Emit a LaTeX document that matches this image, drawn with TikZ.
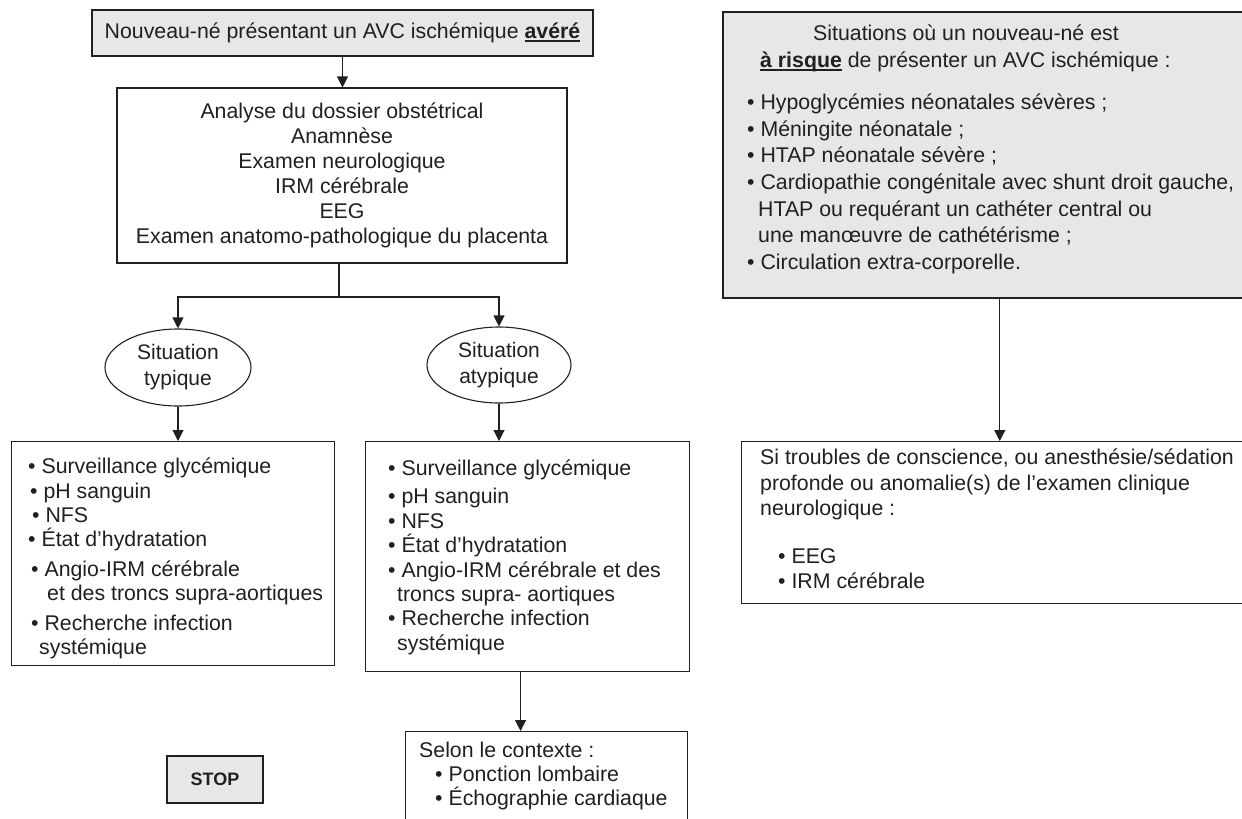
\documentclass[tikz,border=0pt]{standalone}
\usepackage{fontspec}
\setmainfont{Liberation Sans}
\usetikzlibrary{shapes.geometric,arrows.meta}
\definecolor{boxgray}{RGB}{230,231,232}
\definecolor{ink}{RGB}{35,31,32}
\newcommand\fst{\rule{0pt}{16pt}}
\newsavebox\ulbox
\newcommand\ulb[1]{\sbox\ulbox{\textbf{#1}}\rlap{\rule[-3.2pt]{\wd\ulbox}{1.4pt}}\usebox\ulbox}
\begin{document}
\begin{tikzpicture}[x=1pt,y=-1pt,
  every node/.style={text=ink, font=\fontsize{21.3}{25}\selectfont},
  box/.style={draw=ink, line width=1.1pt, inner sep=0pt, rectangle},
  graybox/.style={box, fill=boxgray},
  txt/.style={inner sep=0pt, align=left, anchor=north west},
  oval/.style={ellipse, draw=ink, line width=1.1pt, inner sep=0pt, align=center,
    font=\fontsize{21}{26}\selectfont},
  ln/.style={draw=ink, line width=1.1pt},
  arr/.style={ln, -{Triangle[width=11pt,length=11pt]}}]
\useasboundingbox (0,0) rectangle (1242,819);
\clip (0,0) rectangle (1242,819);
\fill[white] (0,0) rectangle (1242,819);

% left column
\node[graybox, line width=2.2pt, minimum width=501pt, minimum height=46pt] (top) at (342.5,33)
  {Nouveau-né présentant un AVC ischémique \ulb{avéré}};
\node[box, align=center, minimum width=450pt, minimum height=175pt] (ana) at (342,175.5)
  {Analyse du dossier obstétrical\\Anamnèse\\Examen neurologique\\IRM cérébrale\\EEG\\Examen anatomo-pathologique du placenta};
\coordinate (j) at (339,297);
\node[oval, minimum width=146pt, minimum height=77pt] (e1) at (178,367.5) {Situation\\typique};
\node[oval, minimum width=144pt, minimum height=76pt] (e2) at (499,365) {Situation\\atypique};

\node[box, anchor=north west, minimum width=323pt, minimum height=224pt] (b3) at (11,441) {};
\node[txt, font=\fontsize{21.3}{24.3}\selectfont] (b3t) at (28,457.7)
  {\fst• Surveillance glycémique\\
   \hspace*{2pt}• pH sanguin\\
   \hspace*{4pt}• NFS\\
   • État d’hydratation\\[5.5pt]
   \hspace*{3pt}• Angio-IRM cérébrale\\
   \hspace*{19pt}et des troncs supra-aortiques\\[5pt]
   \hspace*{3pt}• Recherche infection\\
   \hspace*{11pt}systémique};

\node[box, anchor=north west, minimum width=324pt, minimum height=230pt] (b4) at (365,441) {};
\node[txt, font=\fontsize{21.3}{24.4}\selectfont] (b4t) at (388,459.7)
  {\fst• Surveillance glycémique\\[3.6pt]
   • pH sanguin\\
   • NFS\\
   • État d’hydratation\\
   • Angio-IRM cérébrale et des\\
   \hspace*{9pt}troncs supra- aortiques\\
   • Recherche infection\\
   \hspace*{9pt}systémique};

\node[box, anchor=north west, minimum width=282pt, minimum height=120pt] (b5) at (405,731) {};
\node[txt, font=\fontsize{21.3}{24}\selectfont] (b5t) at (419,741.7)
  {\fst Selon le contexte :\\
   \hspace*{16pt}• Ponction lombaire\\
   \hspace*{16pt}• Échographie cardiaque};

\node[graybox, minimum width=96pt, minimum height=47pt, font=\fontsize{18}{20}\selectfont\bfseries] (stop) at (215,779.5) {STOP};

% right column
\node[graybox, line width=1.5pt, anchor=north west, minimum width=540pt, minimum height=286pt] (r1) at (722,11) {};
\node[txt, font=\fontsize{21.3}{26.7}\selectfont] (r1t) at (747,24.7)
  {\fst\hspace*{66pt}Situations où un nouveau-né est\\
   \hspace*{13pt}\ulb{à risque} de présenter un AVC ischémique :\\[15pt]
   • Hypoglycémies néonatales sévères ;\\
   • Méningite néonatale ;\\
   • HTAP néonatale sévère ;\\
   • Cardiopathie congénitale avec shunt droit gauche,\\
   \hspace*{11pt}HTAP ou requérant un cathéter central ou\\
   \hspace*{11pt}une manœuvre de cathétérisme ;\\
   • Circulation extra-corporelle.};

\node[box, anchor=north west, minimum width=520pt, minimum height=162pt] (r2) at (741,441) {};
\node[txt, font=\fontsize{21.3}{25.5}\selectfont] (r2t) at (760,448.7)
  {\fst Si troubles de conscience, ou anesthésie/sédation\\
   profonde ou anomalie(s) de l’examen clinique\\
   neurologique :\\[22pt]
   \hspace*{18pt}• EEG\\
   \hspace*{18pt}• IRM cérébrale};

% connectors
\draw[arr] (top.south) -- (top.south |- ana.north);
\draw[ln] (ana.south -| j) -- (j);
\draw[arr] (j) -| (e1.north);
\draw[arr] (j) -| (e2.north);
\draw[arr] (e1.south) -- (e1.south |- b3.north);
\draw[arr] (e2.south) -- (e2.south |- b4.north);
\draw[arr] ([xshift=-7pt]b4.south) -- ([xshift=-7pt]b4.south |- b5.north);
\draw[arr] ([xshift=7pt]r1.south) -- ([xshift=7pt]r1.south |- r2.north);
\end{tikzpicture}
\end{document}
